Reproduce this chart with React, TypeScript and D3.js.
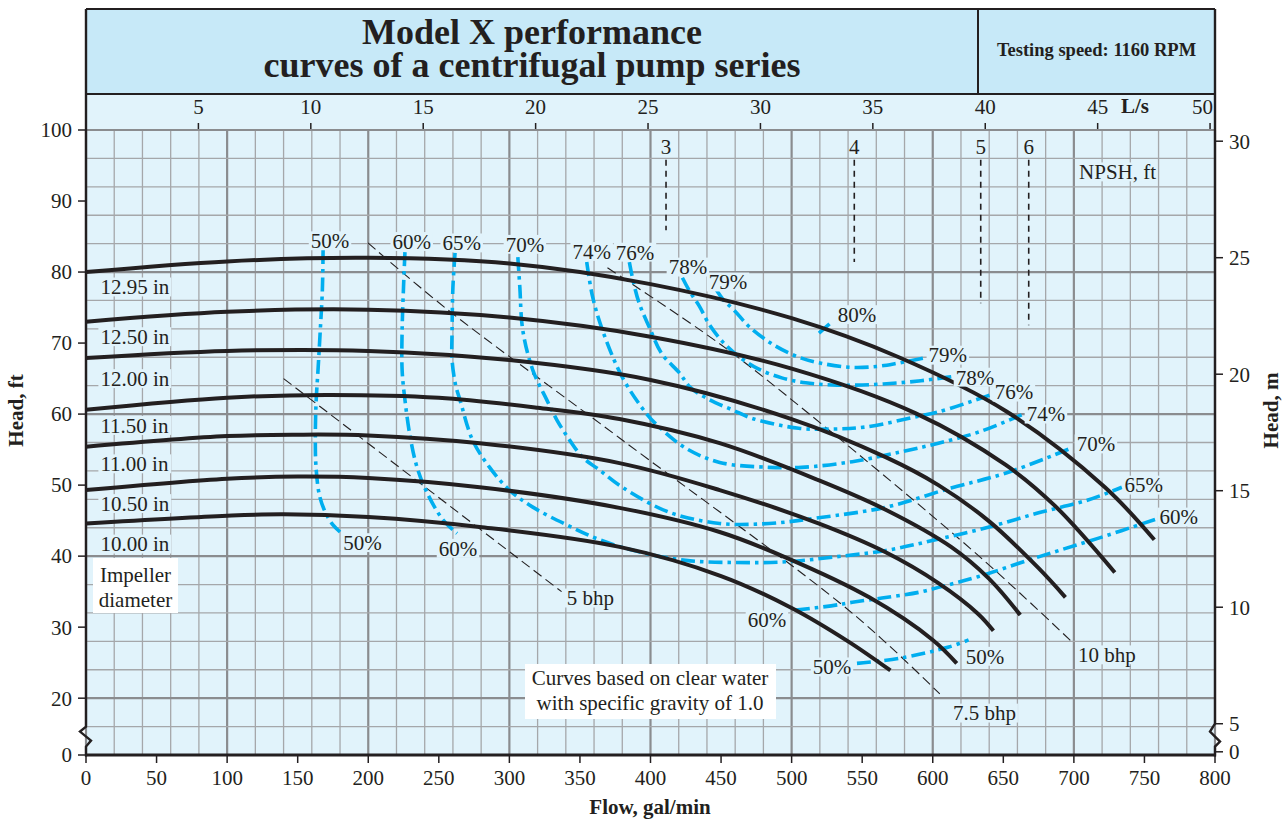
import * as d3 from 'd3';

const W = 1288;
const H = 820;
const PLOT = { left: 86, right: 1215, top: 130, bottom: 755 };
const HEADER_TOP = 9;
const TITLE_BOTTOM = 94;
const TITLE_SPLIT = 978;

const INK = '#231f20';
const BLUE = '#00aeef';
const PLOT_BG = '#e1f3fb';
const TITLE_BG = '#c7e9f8';
const FONT = '"Liberation Serif", "Times New Roman", serif';
const FS = 21;

// axis domains (the head axis is broken: its bottom edge is labelled 0)
const FLOW_MAX = 800;
const HEAD_MIN = 12;
const HEAD_MAX = 100;
const HEAD_BREAK = 16;
const M_ZERO_FT = 12.45;
const FT_PER_M = 3.2808;
const GPM_PER_LS = 15.93;

const flowTicks = d3.range(0, 801, 50);
const headTicks = [20, 30, 40, 50, 60, 70, 80, 90, 100];
const meterTicks = [5, 10, 15, 20, 25, 30];
const lsTicks = d3.range(5, 51, 5);

// impeller head curves: [flow gal/min, head ft]
const head1295: [number, number][] = [[0, 80], [100, 81.5], [200, 82], [300, 81.2], [400, 78.3], [500, 73.5], [576, 68], [652, 60.4], [722, 49.7], [757, 42.3]];
const head1250: [number, number][] = [[0, 73], [100, 74.4], [200, 74.7], [300, 73.6], [400, 70.9], [500, 66.4], [588, 60.1], [652, 52.8], [687, 47], [729, 37.7]];
const head1200: [number, number][] = [[0, 67.9], [100, 68.9], [200, 68.9], [300, 67.6], [400, 64.8], [500, 59.3], [567, 53.9], [604, 50], [640, 44.9], [675, 38.3], [694, 34.2]];
const head1150: [number, number][] = [[0, 60.6], [100, 62.3], [170, 62.7], [250, 62.3], [320, 60.9], [378, 59.3], [449, 55.9], [519, 50.7], [567, 46.5], [613, 41.3], [640, 36.8], [662, 31.7]];
const head1100: [number, number][] = [[0, 55.4], [100, 56.9], [150, 57.1], [200, 57], [279, 55.9], [378, 53.1], [449, 49.3], [519, 44.6], [567, 40.5], [604, 36.2], [632, 31.9], [643, 29.5]];
const head1050: [number, number][] = [[0, 49.3], [100, 50.9], [150, 51.2], [200, 51], [279, 49.7], [378, 46.8], [449, 43.4], [496, 39.8], [555, 34.2], [600, 28.2], [617, 24.9]];
const head1000: [number, number][] = [[0, 44.6], [100, 45.7], [140, 45.9], [200, 45.5], [279, 44.1], [378, 41.3], [450, 37.2], [500, 32.7], [540, 28], [570, 23.9]];

const headCurves = [head1295, head1250, head1200, head1150, head1100, head1050, head1000];
const diameterNames = ['12.95 in', '12.50 in', '12.00 in', '11.50 in', '11.00 in', '10.50 in', '10.00 in'];
const diameterLabelHead = [77.9, 70.9, 65, 58.4, 53.0, 47.4, 41.7];
const diameterLabelFlow = 10.2;

// efficiency contours: [flow gal/min, head ft]
const eff50L: [number, number][] = [[168, 83.1], [167.5, 77.5], [166, 71.8], [164.5, 66.5], [163, 61.5], [162.5, 56.5], [163, 52.5], [165.5, 48.5], [170, 46], [175, 44.4], [180, 43.4]];
const eff60L: [number, number][] = [[226, 82.8], [225, 77.9], [224, 71.8], [224, 66.2], [226, 62], [229.7, 56.8], [234.6, 52.5], [241.7, 48.9], [253, 45.1], [262.9, 43.2]];
const eff65: [number, number][] = [[261.5, 82.7], [260, 77.9], [259.4, 71.8], [259.4, 67.6], [262, 64], [265, 62], [274, 56.3], [286, 52.5], [300, 49.3], [316.6, 46.9], [340.6, 44.4], [364, 42.3], [392, 40.6], [425, 39.4], [460, 39.1], [496, 39.2], [531, 39.9], [567, 40.8], [602, 42.3], [640, 44.1], [675, 46.1], [710, 47.9], [734, 49.7]];
const eff70: [number, number][] = [[306, 82.1], [307.4, 77.9], [309.5, 71.8], [316.6, 66.2], [326.5, 62], [333.6, 59.2], [342.8, 56.3], [352, 53.9], [364, 52.1], [380, 49.7], [413, 46.2], [449, 44.6], [484, 44.6], [519, 45.4], [567, 46.9], [613, 49.6], [652, 51.7], [698, 55.2]];
const eff74: [number, number][] = [[354.8, 81.4], [359, 76.5], [366, 71.8], [380, 65.2], [397, 60.1], [406, 58.2], [425, 55.2], [449, 53.2], [484, 52.5], [507, 52.5], [543, 53.3], [578, 54.7], [604, 55.9], [633, 57.5], [663, 59.9]];
const eff76: [number, number][] = [[385, 81.4], [388, 78.5], [392, 75.6], [399, 72.3], [408, 68.5], [420.5, 65.8], [428, 63.8], [442, 62], [458, 60.6], [472, 59.4], [505, 58], [530, 57.9], [553, 58.2], [590, 59.7], [604, 60.3], [635, 62.3], [645, 63]];
const eff78: [number, number][] = [[422.6, 79.2], [428, 77.2], [434.6, 75.2], [441.7, 72.6], [451, 70.2], [462, 68.2], [476, 66.4], [493, 65.1], [510, 64.4], [529, 64.1], [550, 64.1], [576, 64.4], [600, 64.9], [624, 65.6]];
const eff79: [number, number][] = [[446.6, 77.5], [452, 76], [459.4, 74.6], [470, 72.3], [487.6, 69.7], [505.3, 68.0], [520, 67.2], [540.6, 66.6], [560, 66.7], [576, 67.2], [597, 68.0], [607, 68.3]];
const eff80: [number, number][] = [[519.4, 71.4], [528.6, 73.0]];
const eff60R: [number, number][] = [[503, 32.4], [528, 33], [543, 33.5], [564, 34.1], [590, 34.9], [604, 35.6], [632, 37.1], [675, 39.9], [717, 42.5], [758, 45.2]];
const eff50R: [number, number][] = [[546.3, 24.9], [576, 25.6], [611.3, 27.2], [625.4, 28.2]];
const effCurves = [eff50L, eff60L, eff65, eff70, eff74, eff76, eff78, eff79, eff80, eff60R, eff50R];

const effLabelText = ['50%', '60%', '65%', '70%', '74%', '76%', '78%', '79%', '80%', '79%', '78%', '76%', '74%', '70%', '65%', '60%', '50%', '60%', '60%', '50%', '50%'];
const effLabelFlow = [172.9, 230.8, 266.2, 311, 358.3, 389, 426.5, 454.9, 546.3, 610.7, 629.9, 657.5, 680.2, 715.6, 749.6, 774.4, 196, 263.6, 482.5, 528.6, 637];
const effLabelHead = [84.4, 84.3, 84.1, 83.9, 82.9, 82.8, 80.7, 78.6, 74, 68.3, 65.2, 63.1, 60, 55.8, 50, 45.5, 41.9, 41.1, 31, 24.4, 25.9];

// brake horsepower lines
const bhp5: [number, number][] = [[140, 65], [337, 35]];
const bhp75: [number, number][] = [[199.8, 84.1], [255.6, 74.8], [378.3, 56.6], [543.4, 31.9], [605, 20.6]];
const bhp10: [number, number][] = [[369.5, 80.6], [446.9, 70.2], [496.4, 62.6], [633.4, 39.9], [699.3, 27.8]];
const bhpLines = [bhp5, bhp75, bhp10];
const bhpNames = ['5 bhp', '7.5 bhp', '10 bhp'];
const bhpLabelFlow = [340.6, 614.3, 702.9];
const bhpLabelHead = [34.1, 17.9, 26.1];

// NPSH markers
const npshValues = [3, 4, 5, 6];
const npshFlow = [411, 544.4, 634, 668];
const npshBottom = [85.9, 81.4, 75.6, 72.5];
const npshTop = 95.8;
const npshLabelHead = 97.6;

const CHAR_W: Record<string, number> = {
    '%': 0.833, '.': 0.25, ' ': 0.25, i: 0.278, l: 0.278, t: 0.278, f: 0.333, r: 0.333,
    m: 0.778, w: 0.722, c: 0.444, e: 0.444, a: 0.444, s: 0.389, C: 0.667, I: 0.333,
};
const textWidth = (s: string, size: number) =>
    s.split('').reduce((acc, ch) => acc + (CHAR_W[ch] ?? 0.5), 0) * size;

type LabelProps = {
    x: number;
    y: number;
    text: string;
    anchor?: 'start' | 'middle' | 'end';
    size?: number;
};

const BgLabel = ({ x, y, text, anchor = 'middle', size = FS }: LabelProps) => {
    const w = textWidth(text, size);
    const x0 = anchor === 'middle' ? x - w / 2 : anchor === 'start' ? x : x - w;
    return (
        <g>
            <rect x={x0 - 2} y={y - size * 0.45} width={w + 4} height={size * 0.9} fill={PLOT_BG} />
            <text x={x} y={y} dy="0.35em" textAnchor={anchor} fontSize={size} fill={INK}>
                {text}
            </text>
        </g>
    );
};

export default function App() {
    const x = d3.scaleLinear().domain([0, FLOW_MAX]).range([PLOT.left, PLOT.right]);
    const y = d3.scaleLinear().domain([HEAD_MIN, HEAD_MAX]).range([PLOT.bottom, PLOT.top]);
    const xLs = d3.scaleLinear().domain([0, FLOW_MAX / GPM_PER_LS]).range([PLOT.left, PLOT.right]);
    const yM = (m: number) => y(m * FT_PER_M);

    const smoothLine = d3
        .line<[number, number]>()
        .x((d) => x(d[0]))
        .y((d) => y(d[1]))
        .curve(d3.curveCatmullRom.alpha(0.5));

    const hGrid = d3.range(HEAD_BREAK, HEAD_MAX + 1, 4);
    const vGrid = d3.range(0, FLOW_MAX + 1, 20);

    const yBreak = y(HEAD_BREAK);
    const leftBreak = `M${PLOT.left},${HEADER_TOP} V${yBreak} L${PLOT.left - 6},${yBreak + 5} L${PLOT.left + 5},${yBreak + 14} L${PLOT.left},${yBreak + 20} V${PLOT.bottom + 1.5}`;
    const rightBreak = `M${PLOT.right},${HEADER_TOP} V${yBreak - 3} L${PLOT.right - 5},${yBreak + 5} L${PLOT.right + 5},${yBreak + 15} L${PLOT.right},${yBreak + 20} V${PLOT.bottom + 1.5}`;

    return (
        <svg
            width={W}
            height={H}
            viewBox={`0 0 ${W} ${H}`}
            style={{ position: 'absolute', left: 0, top: 0, background: '#fff' }}
            fontFamily={FONT}
        >
            {/* header */}
            <rect x={PLOT.left} y={HEADER_TOP} width={PLOT.right - PLOT.left} height={TITLE_BOTTOM - HEADER_TOP} fill={TITLE_BG} />
            <rect x={PLOT.left} y={TITLE_BOTTOM} width={PLOT.right - PLOT.left} height={PLOT.top - TITLE_BOTTOM} fill={PLOT_BG} />
            <text x={532} y={44} textAnchor="middle" fontSize={36} fontWeight="bold" fill={INK}>
                Model X performance
            </text>
            <text x={532} y={77} textAnchor="middle" fontSize={36} fontWeight="bold" fill={INK}>
                curves of a centrifugal pump series
            </text>
            <text x={(TITLE_SPLIT + PLOT.right) / 2} y={56} textAnchor="middle" fontSize={18.5} fontWeight="bold" fill={INK}>
                Testing speed: 1160 RPM
            </text>

            {/* L/s axis */}
            {lsTicks.map((t) => (
                <g key={`ls${t}`}>
                    <line x1={xLs(t)} x2={xLs(t)} y1={PLOT.top - 7} y2={PLOT.top} stroke={INK} strokeWidth={1.5} />
                    <text
                        x={t === 50 ? xLs(t) + 3 : xLs(t)}
                        y={114}
                        textAnchor={t === 50 ? 'end' : 'middle'}
                        fontSize={FS}
                        fill={INK}
                    >
                        {t}
                    </text>
                </g>
            ))}
            <text x={1121} y={113} fontSize={FS} fontWeight="bold" fill={INK}>
                L/s
            </text>

            {/* plot background and grid */}
            <rect x={PLOT.left} y={PLOT.top} width={PLOT.right - PLOT.left} height={PLOT.bottom - PLOT.top} fill={PLOT_BG} />
            {vGrid.map((v) => (
                <line
                    key={`vg${v}`}
                    x1={x(v)}
                    x2={x(v)}
                    y1={PLOT.top}
                    y2={PLOT.bottom}
                    stroke={v % 100 === 0 ? '#8a8c8f' : '#a5a7aa'}
                    strokeWidth={v % 100 === 0 ? 2.2 : 1.3}
                />
            ))}
            {hGrid.map((h) => (
                <line
                    key={`hg${h}`}
                    x1={PLOT.left}
                    x2={PLOT.right}
                    y1={y(h)}
                    y2={y(h)}
                    stroke={h % 20 === 0 ? '#8a8c8f' : '#a5a7aa'}
                    strokeWidth={h % 20 === 0 ? 2.2 : 1.3}
                />
            ))}

            {/* bhp lines */}
            {bhpLines.map((pts, i) => (
                <path key={`bhp${i}`} d={smoothLine(pts) || ''} fill="none" stroke={INK} strokeWidth={1.1} strokeDasharray="10 5" />
            ))}

            {/* NPSH markers */}
            {npshValues.map((v, i) => (
                <g key={`npsh${v}`}>
                    <line
                        x1={x(npshFlow[i])}
                        x2={x(npshFlow[i])}
                        y1={y(npshTop)}
                        y2={y(npshBottom[i])}
                        stroke={INK}
                        strokeWidth={1.6}
                        strokeDasharray="6 5"
                    />
                    <text x={x(npshFlow[i])} y={y(npshLabelHead)} dy="0.35em" textAnchor="middle" fontSize={FS} fill={INK}>
                        {v}
                    </text>
                </g>
            ))}
            <BgLabel x={x(731)} y={y(94.1)} text="NPSH, ft" />

            {/* efficiency contours */}
            {effCurves.map((pts, i) => (
                <path
                    key={`eff${i}`}
                    d={smoothLine(pts) || ''}
                    fill="none"
                    stroke={BLUE}
                    strokeWidth={3.6}
                    strokeDasharray="14 5 3.5 5"
                />
            ))}

            {/* impeller head curves */}
            {headCurves.map((pts, i) => (
                <path key={`head${i}`} d={smoothLine(pts) || ''} fill="none" stroke={INK} strokeWidth={4} />
            ))}

            {/* labels */}
            {diameterNames.map((name, i) => (
                <BgLabel key={name} x={x(diameterLabelFlow)} y={y(diameterLabelHead[i])} text={name} anchor="start" />
            ))}
            {effLabelText.map((t, i) => (
                <BgLabel key={`el${i}`} x={x(effLabelFlow[i])} y={y(effLabelHead[i])} text={t} />
            ))}
            {bhpNames.map((t, i) => (
                <BgLabel key={t} x={x(bhpLabelFlow[i])} y={y(bhpLabelHead[i])} text={t} anchor="start" />
            ))}

            <rect x={93} y={558} width={85} height={55} fill="#fff" />
            <text x={135.5} y={575} dy="0.35em" textAnchor="middle" fontSize={FS} fill={INK}>
                Impeller
            </text>
            <text x={135.5} y={600} dy="0.35em" textAnchor="middle" fontSize={FS} fill={INK}>
                diameter
            </text>

            <rect x={525} y={664} width={251} height={55} fill="#fff" />
            <text x={650} y={678} dy="0.35em" textAnchor="middle" fontSize={FS} fill={INK}>
                Curves based on clear water
            </text>
            <text x={650} y={703} dy="0.35em" textAnchor="middle" fontSize={FS} fill={INK}>
                with specific gravity of 1.0
            </text>

            {/* frame and axes */}
            <line x1={PLOT.left} x2={PLOT.right} y1={PLOT.top} y2={PLOT.top} stroke="#8a8c8f" strokeWidth={2.2} />
            <line x1={PLOT.left} x2={PLOT.right} y1={HEADER_TOP} y2={HEADER_TOP} stroke={INK} strokeWidth={2} />
            <line x1={PLOT.left} x2={PLOT.right} y1={TITLE_BOTTOM} y2={TITLE_BOTTOM} stroke={INK} strokeWidth={2} />
            <line x1={TITLE_SPLIT} x2={TITLE_SPLIT} y1={HEADER_TOP} y2={TITLE_BOTTOM} stroke={INK} strokeWidth={2} />
            <path d={leftBreak} fill="none" stroke={INK} strokeWidth={2.4} />
            <path d={rightBreak} fill="none" stroke={INK} strokeWidth={2.4} />
            <line x1={PLOT.left - 1} x2={PLOT.right + 1} y1={PLOT.bottom} y2={PLOT.bottom} stroke={INK} strokeWidth={3} />

            {/* left axis */}
            {headTicks.map((t) => (
                <g key={`lt${t}`}>
                    <line x1={PLOT.left - 8} x2={PLOT.left} y1={y(t)} y2={y(t)} stroke={INK} strokeWidth={1.5} />
                    <text x={72} y={y(t)} dy="0.35em" textAnchor="end" fontSize={FS} fill={INK}>
                        {t}
                    </text>
                </g>
            ))}
            <line x1={PLOT.left - 8} x2={PLOT.left} y1={PLOT.bottom} y2={PLOT.bottom} stroke={INK} strokeWidth={1.5} />
            <text x={72} y={PLOT.bottom} dy="0.35em" textAnchor="end" fontSize={FS} fill={INK}>
                0
            </text>
            <text
                transform={`translate(23,${(PLOT.top + PLOT.bottom) / 2 - 32}) rotate(-90)`}
                textAnchor="middle"
                fontSize={FS}
                fontWeight="bold"
                fill={INK}
            >
                Head, ft
            </text>

            {/* right axis */}
            {meterTicks.map((t) => (
                <g key={`rt${t}`}>
                    <line x1={PLOT.right} x2={PLOT.right + 8} y1={yM(t)} y2={yM(t)} stroke={INK} strokeWidth={1.5} />
                    <text x={1229} y={yM(t)} dy="0.35em" textAnchor="start" fontSize={FS} fill={INK}>
                        {t}
                    </text>
                </g>
            ))}
            <line x1={PLOT.right} x2={PLOT.right + 8} y1={y(M_ZERO_FT)} y2={y(M_ZERO_FT)} stroke={INK} strokeWidth={1.5} />
            <text x={1229} y={y(M_ZERO_FT)} dy="0.35em" textAnchor="start" fontSize={FS} fill={INK}>
                0
            </text>
            <text
                transform={`translate(1278,${(PLOT.top + PLOT.bottom) / 2 - 32}) rotate(-90)`}
                textAnchor="middle"
                fontSize={FS}
                fontWeight="bold"
                fill={INK}
            >
                Head, m
            </text>

            {/* bottom axis */}
            {flowTicks.map((t) => (
                <g key={`bt${t}`}>
                    <line x1={x(t)} x2={x(t)} y1={PLOT.bottom} y2={PLOT.bottom + 8} stroke={INK} strokeWidth={1.5} />
                    <text x={x(t)} y={785} textAnchor="middle" fontSize={FS} fill={INK}>
                        {t}
                    </text>
                </g>
            ))}
            <text x={650} y={814} textAnchor="middle" fontSize={FS} fontWeight="bold" fill={INK}>
                Flow, gal/min
            </text>
        </svg>
    );
}
